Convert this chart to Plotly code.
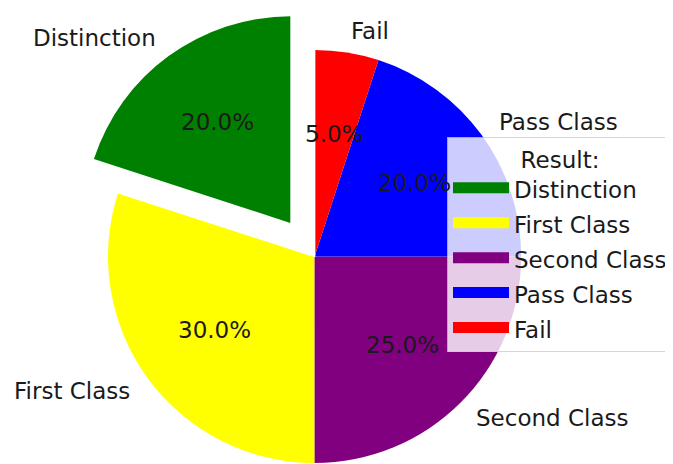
import math
import plotly.graph_objects as go

# ---- data ----
labels = ["Distinction", "First Class", "Second Class", "Pass Class", "Fail"]
values = [20, 30, 25, 20, 5]
colors = ["green", "yellow", "purple", "blue", "red"]
explode = [0.2, 0, 0, 0, 0]
legend_title = "Result:"

# ---- layout constants ----
PAGE = 8                               # browser body margin
W, H = 673 - PAGE, 464 - PAGE          # figure size so it fits the window
CX, CY, R = 316.0 - PAGE, 256.5 - PAGE, 207.5   # pie centre (figure px from left / top), radius
START = 90.0                           # first slice starts at 12 o'clock, counter-clockwise
FONT = dict(family="DejaVu Sans", size=23, color="#1a1a1a")
TRANSPARENT = "rgba(0,0,0,0)"


def domain(cx, cy):
    return dict(x=[(cx - R) / W, (cx + R) / W],
                y=[max(0.0, (H - cy - R) / H), (H - cy + R) / H])


total = float(sum(values))
fig = go.Figure()

# plotly (counterclockwise) ends the first slice at `rotation`; shift so it starts at 12 o'clock
fig.add_trace(go.Pie(
    labels=labels, values=values, sort=False, direction="counterclockwise",
    rotation=-360.0 * values[0] / total,
    marker=dict(colors=colors, line=dict(width=0)),
    textinfo="none", hoverinfo="skip", domain=domain(CX, CY), showlegend=False,
))

annotations = []
cum = 0.0
for lab, val, col, ex in zip(labels, values, colors, explode):
    a1 = START + 360.0 * cum / total
    a2 = START + 360.0 * (cum + val) / total
    mid = math.radians((a1 + a2) / 2)
    off = ex * R
    cx = CX + off * math.cos(mid)
    cy = CY - off * math.sin(mid)
    if ex > 0:
        rot = -360.0 * (cum + val) / total
        # blank out the slice at its original place
        fig.add_trace(go.Pie(
            labels=[lab, "_rest"], values=[val, total - val], sort=False,
            direction="counterclockwise", rotation=rot,
            marker=dict(colors=["white", TRANSPARENT],
                        line=dict(width=[1.5, 0], color=["white", TRANSPARENT])),
            textinfo="none", hoverinfo="skip", domain=domain(CX, CY), showlegend=False,
        ))
        # draw the exploded slice
        fig.add_trace(go.Pie(
            labels=[lab, "_rest"], values=[val, total - val], sort=False,
            direction="counterclockwise", rotation=rot,
            marker=dict(colors=[col, TRANSPARENT], line=dict(width=0)),
            textinfo="none", hoverinfo="skip", domain=domain(cx, cy), showlegend=False,
        ))
    # percentage label at 0.6 R
    px = cx + 0.6 * R * math.cos(mid)
    py = cy - 0.6 * R * math.sin(mid)
    annotations.append(dict(
        text=f"{100.0 * val / total:.1f}%", x=px / W, y=1 - py / H, xref="paper", yref="paper",
        xanchor="center", yanchor="middle", showarrow=False, font=FONT, borderpad=0,
    ))
    # category label at 1.1 R
    lx = cx + 1.1 * R * math.cos(mid)
    ly = cy - 1.1 * R * math.sin(mid)
    annotations.append(dict(
        text=lab, x=lx / W, y=1 - ly / H, xref="paper", yref="paper",
        xanchor="left" if lx > cx else "right", yanchor="middle", showarrow=False,
        font=FONT, borderpad=0,
    ))
    cum += val

# legend entries (rectangular patches like the original)
for lab, col in zip(labels, colors):
    fig.add_trace(go.Scatter(
        x=[None], y=[None], name=lab, legendgroup=lab, mode="lines",
        fill="toself", fillcolor=col, line=dict(color=col, width=10),
        hoverinfo="skip", showlegend=True,
    ))

fig.update_layout(
    width=W, height=H, margin=dict(l=0, r=0, t=0, b=0),
    paper_bgcolor="white", plot_bgcolor="white",
    font=FONT, annotations=annotations,
    xaxis=dict(visible=False), yaxis=dict(visible=False),
    legend=dict(
        title=dict(text=legend_title, side="top center", font=FONT),
        x=(449 - PAGE) / W, y=1 - (137 - PAGE) / H, xanchor="left", yanchor="top",
        bgcolor="rgba(255,255,255,0.8)", bordercolor="rgba(204,204,204,0.8)", borderwidth=1,
        font=FONT, traceorder="grouped", tracegroupgap=2, itemwidth=56,
    ),
)

fig.write_html("out.html")
